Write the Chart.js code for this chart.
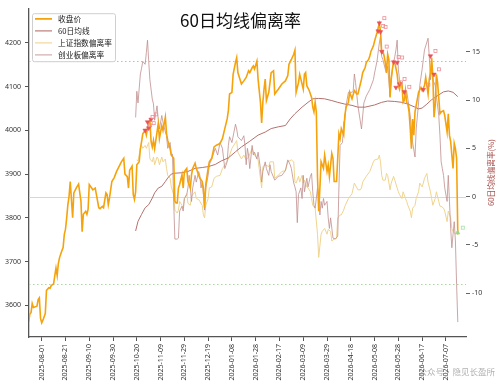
<!DOCTYPE html>
<html><head><meta charset="utf-8">
<script src="https://cdn.jsdelivr.net/npm/chart.js@4.4.1/dist/chart.umd.min.js"></script>
<style>html,body{margin:0;padding:0;background:#fff;}</style>
</head><body>
<canvas id="c" width="500" height="389"></canvas>
<script>
// x values are calendar days counted from 2025-08-01 (day 0)
const xTickDays = [0,20,40,60,80,100,120,140,160,180,200,220,240,260,280,300,320,340];
const xTickLabels = ['2025-08-01','2025-08-21','2025-09-10','2025-09-30','2025-10-20','2025-11-09','2025-11-29','2025-12-19','2026-01-08','2026-01-28','2026-02-17','2026-03-09','2026-03-29','2026-04-18','2026-05-08','2026-05-28','2026-06-17','2026-07-07'];
const leftTicks = [3600,3700,3800,3900,4000,4100,4200];
const rightTicks = [-10,-5,0,5,10,15];
const refLineValues = [14, 0, -9];

const closeDays = [-11,-10,-9,-8,-7,-4,-3,-2,-1,0,1,3,4,6,7,8,10,11,12,13,14,15,17,18,19,20,21,22,23,24,26,27,29,31,33,34,35,37,38,39,40,42,43,45,46,48,49,51,52,54,55,56,57,59,61,63,65,67,69,70,72,73,74,76,77,78,79,80,82,83,84,85,87,88,89,90,91,92,93,94,95,97,98,99,101,102,104,105,106,108,109,111,112,113,114,115,116,118,119,120,122,123,125,126,127,129,130,132,133,135,136,137,138,140,141,143,145,147,150,152,154,156,157,158,160,161,163,164,165,168,170,172,174,175,177,178,179,181,182,184,185,186,187,188,189,191,192,193,195,196,199,202,205,207,208,210,212,213,214,216,217,218,220,221,222,223,225,227,228,229,230,231,232,233,234,235,237,238,240,241,242,244,245,246,248,249,250,251,252,254,255,256,258,259,261,263,265,266,268,269,270,272,273,275,276,277,279,280,282,283,284,285,286,287,288,289,290,291,292,293,294,295,296,297,299,300,301,302,303,304,305,306,307,308,309,310,311,312,313,314,316,317,319,320,322,323,325,326,327,328,329,330,331,332,333,335,336,338,339,341,342,343,344,345,346,347,348,349,350];
const closeVals = [3562,3580,3583,3604,3595,3598,3613,3617,3570,3560,3566,3581,3634,3640,3639,3645,3649,3668,3685,3668,3696,3709,3725,3732,3762,3774,3800,3830,3849,3883,3800,3857,3868,3877,3838,3768,3808,3815,3808,3819,3876,3868,3864,3868,3853,3823,3821,3826,3823,3857,3853,3830,3845,3883,3892,3906,3917,3928,3936,3900,3894,3868,3909,3918,3853,3842,3860,3921,3928,3958,3974,3992,4000,3989,4005,4019,4023,3974,3962,3977,3958,3996,4015,3981,4011,4000,4030,3992,3977,3958,3943,3936,3838,3834,3834,3868,3876,3898,3868,3906,3913,3883,3868,3898,3913,3925,3913,3898,3891,3883,3868,3823,3876,3913,3928,3936,3962,3966,3970,3981,4004,4026,4045,4083,4087,4128,4155,4166,4132,4106,4113,4121,4136,4132,4143,4147,4140,4158,4117,4064,4017,4064,4094,4117,4068,4087,4109,4132,4136,4083,4094,4106,4113,4125,4151,4162,4174,4183,4087,4109,4128,4117,4094,4128,4132,4102,4091,4075,4053,4042,4064,4042,3891,3815,3868,3928,3913,3943,3906,3921,3894,3947,3936,3883,3883,3936,3992,3981,4004,3989,4034,4053,4064,4087,4072,4091,4083,4083,4106,4117,4132,4143,4155,4162,4170,4181,4193,4204,4223,4234,4244,4227,4177,4181,4170,4155,4132,4174,4162,4075,4117,4140,4158,4155,4128,4102,4094,4109,4106,4064,4068,4091,4064,4060,4042,4004,3958,4026,3989,4042,4072,4087,4098,4091,4102,4121,4083,4117,4132,4166,4125,4030,4057,4128,4109,4038,4042,4045,4034,3996,4038,3989,3974,3943,3913,3970,3958,3936,3762];

const ma60Days = [79,81,84,87,90,93,95,98,101,104,106,109,112,118,123,129,135,140,146,151,157,163,168,175,182,188,193,199,205,209,213,219,224,228,233,238,244,249,255,261,266,272,280,286,291,297,303,308,314,317,320,324,328,334,338,342,346,350];
const ma60Vals = [3770,3792,3808,3823,3830,3845,3857,3868,3872,3883,3891,3900,3902,3903,3906,3913,3915,3917,3922,3930,3937,3951,3962,3975,3989,3996,4004,4008,4011,4026,4038,4053,4064,4072,4073,4072,4068,4064,4060,4057,4053,4053,4058,4064,4067,4066,4064,4060,4053,4049,4051,4060,4070,4081,4088,4090,4087,4077];

const shDevDays = [80,81,83,84,85,87,88,90,91,93,94,95,97,98,99,101,102,104,105,106,108,109,111,112,114,115,116,118,119,120,122,123,125,126,127,129,130,132,133,135,136,137,138,140,141,143,145,147,150,152,154,157,160,163,164,165,168,170,172,174,177,179,182,185,186,188,191,192,195,196,199,202,205,207,210,212,213,214,216,217,219,220,221,223,224,226,227,228,230,232,233,235,236,238,240,241,243,244,246,248,249,251,252,254,255,258,261,263,266,268,269,270,273,276,279,280,283,284,285,286,287,289,290,291,293,294,296,297,299,300,301,303,304,306,307,308,310,311,312,314,315,317,318,320,321,322,324,325,327,328,329,331,332,334,335,336,338,339,341,342,344,345,346,348,349,350];
const shDevVals = [3.8,3.7,5.0,5.3,5.0,5.3,5.0,5.6,3.9,3.6,4.1,3.3,4.1,3.9,3.3,4.1,3.6,3.9,2.9,2.2,1.9,1.0,0.2,-1.4,-1.7,-1.4,-0.5,-0.9,-1.2,-0.2,0.3,-0.7,-0.9,0.0,0.2,0.5,-0.2,-0.3,-0.5,-0.9,-1.9,-2.2,-0.9,-0.2,0.9,1.0,1.9,2.1,2.2,2.9,3.3,3.9,5.0,5.6,5.8,4.6,3.9,4.3,3.8,4.1,5.0,4.3,3.8,0.9,3.1,3.3,3.1,3.6,3.6,1.9,2.2,2.6,2.7,3.6,3.8,3.6,1.5,1.4,2.1,1.5,2.2,1.4,1.7,1.0,0.9,0.5,-0.2,-0.9,-1.2,-3.9,-6.3,-3.9,-3.6,-3.3,-3.9,-3.4,-3.6,-4.6,-4.4,-4.3,-2.2,-1.9,-1.9,-1.4,-1.0,-0.2,0.3,1.4,0.7,0.7,0.9,1.5,2.1,2.6,3.6,3.8,3.9,4.3,3.6,2.2,1.7,1.7,2.4,2.2,0.7,1.4,2.1,1.7,0.9,0.5,0.2,-0.2,0.5,-0.2,-0.5,-0.9,-1.5,-2.2,-1.2,-0.9,-0.2,0.5,1.4,1.0,1.4,1.9,2.4,1.5,0.5,-0.2,-0.9,-0.2,0.5,-0.5,-1.0,-1.0,-1.2,-1.5,-2.6,-1.5,-2.2,-3.3,-3.6,-3.9,-3.6,-3.9];

const cyDevDays = [79,80,81,83,84,85,87,88,89,90,91,93,94,95,97,98,99,101,102,104,105,106,108,109,110,111,112,114,115,116,118,119,120,122,123,124,125,126,127,129,130,132,133,134,135,136,137,138,140,141,143,146,148,150,152,154,156,157,158,160,163,164,165,168,170,171,172,173,174,175,177,178,179,181,182,184,185,186,188,189,191,192,193,196,199,202,205,207,209,210,212,213,214,215,216,218,219,220,221,223,224,226,227,228,229,230,232,233,234,235,236,237,238,240,241,242,243,245,247,249,250,251,253,254,255,256,258,259,261,262,263,264,266,269,271,273,276,279,280,282,284,285,286,287,289,290,291,293,294,295,297,298,299,300,301,303,304,306,307,308,310,311,312,314,315,317,318,320,321,322,325,326,327,328,329,331,332,334,335,336,337,338,339,341,342,343,344,345,346,347,348,349,350];
const cyDevVals = [8.2,10.9,9.7,12.7,13.3,14.0,13.7,14.9,16.2,14.0,12.1,10.1,9.6,7.9,9.4,8.0,7.0,8.4,7.7,6.7,6.3,5.0,5.6,4.3,4.4,-0.5,-4.4,-4.4,-4.3,-1.5,-1.0,-1.5,-0.2,0.2,0.9,2.2,0.9,-0.5,0.9,2.2,1.5,2.6,2.2,0.9,1.5,0.2,-1.4,0.9,2.2,3.3,3.9,5.0,4.3,5.6,5.0,2.9,3.6,5.3,6.2,5.6,7.5,7.0,6.2,5.8,6.3,5.3,3.3,5.0,4.3,2.9,5.3,4.3,4.6,3.9,4.6,2.9,1.5,2.6,3.6,2.9,2.2,3.3,2.6,1.7,2.1,2.2,2.7,3.8,3.3,2.9,1.4,1.0,0.5,-2.7,0.2,0.9,-0.2,2.2,0.5,1.9,1.0,2.1,2.4,0.5,-0.9,-1.2,0.9,-0.2,-1.9,-0.5,-1.2,-0.2,-0.9,-0.5,-2.2,-3.3,-2.2,-4.3,-4.4,-4.1,0.9,5.3,5.6,7.7,8.0,9.4,10.8,10.8,10.8,10.9,12.7,11.8,9.4,7.0,9.7,10.4,11.1,12.1,12.8,14.0,15.9,16.6,14.5,14.2,13.2,12.8,13.5,10.4,12.1,13.2,14.5,15.2,16.2,13.2,12.1,11.5,10.8,10.4,10.9,10.1,8.4,7.0,5.6,4.1,7.0,9.7,11.5,13.2,14.2,15.2,16.4,14.5,12.1,13.2,12.1,11.5,10.4,8.4,6.3,3.6,2.9,2.2,0.9,-0.5,2.2,-0.5,-3.3,-5.3,-3.9,-2.6,-4.6,-9.1,-13.0];

// signal markers placed on the close line
const sellDays = [87,89,90,92,283,284,285,286,296,298,299,301,305,321,327,330];
const sellVals = [4000,4019,4005,4025,4227,4245,4225,4180,4156,4098,4155,4106,4088,4093,4170,4128];
const buyDays = [350];
const buyVals = [3766];

const pts = (xs, ys) => xs.map((x, i) => ({x, y: ys[i]}));

const refLineStyles = [
  {color: '#EBA6A6', dash: [1.5, 2.5], width: 1},
  {color: '#D6D6D6', dash: [], width: 1},
  {color: '#A9D6A0', dash: [1.5, 2.5], width: 1}
];

const refLinesPlugin = {
  id: 'refLines',
  beforeDatasetsDraw(chart) {
    const {ctx, chartArea: a, scales} = chart;
    ctx.save();
    refLineValues.forEach((v, i) => {
      const st = refLineStyles[i];
      const y = Math.round(scales.y1.getPixelForValue(v)) + 0.5;
      ctx.strokeStyle = st.color; ctx.lineWidth = st.width; ctx.setLineDash(st.dash);
      ctx.beginPath(); ctx.moveTo(a.left, y); ctx.lineTo(a.right, y); ctx.stroke();
    });
    ctx.restore();
  }
};

// legend drawn inside the plot (upper left), styled from the datasets
const legendPlugin = {
  id: 'boxLegend',
  afterDatasetsDraw(chart) {
    const {ctx, chartArea: a} = chart;
    const items = chart.data.datasets.filter(ds => !ds.hideInLegend);
    ctx.save();
    ctx.fillStyle = 'rgba(255,255,255,0.85)';
    ctx.strokeStyle = '#CFCFCF'; ctx.lineWidth = 1;
    ctx.beginPath();
    ctx.roundRect(a.left + 3.5, a.top + 5.5, 83, 48, 2);
    ctx.fill(); ctx.stroke();
    ctx.font = '7.7px "Noto Sans CJK SC"';
    ctx.textBaseline = 'middle'; ctx.textAlign = 'left';
    items.forEach((ds, i) => {
      const y = a.top + 10.7 + i * 12;
      ctx.strokeStyle = ds.borderColor; ctx.lineWidth = ds.borderWidth * 1.1;
      ctx.beginPath(); ctx.moveTo(a.left + 6, y); ctx.lineTo(a.left + 23, y); ctx.stroke();
      ctx.fillStyle = '#222';
      ctx.fillText(ds.label, a.left + 29, y + 0.3);
    });
    ctx.restore();
  }
};

const markLabelPlugin = {
  id: 'markLabels',
  afterDatasetsDraw(chart) {
    const {ctx} = chart;
    ctx.save();
    chart.data.datasets.forEach((ds, i) => {
      if (!ds.markColor) return;
      chart.getDatasetMeta(i).data.forEach(p => {
        ctx.strokeStyle = ds.markColor; ctx.lineWidth = 0.8;
        ctx.strokeRect(p.x + 3.5, p.y - 6.5, 3, 3);
      });
    });
    ctx.restore();
  }
};

const textPlugin = {
  id: 'texts',
  afterDraw(chart) {
    const {ctx, chartArea: a, scales} = chart;
    ctx.save();
    ctx.fillStyle = '#111';
    ctx.font = '17px "Noto Sans CJK SC"';
    ctx.textAlign = 'center'; ctx.textBaseline = 'middle';
    ctx.fillText('60日均线偏离率', (a.left + a.right) / 2 - 7, a.top + 12);
    ctx.save();
    ctx.translate(scales.y1.right - 9, (a.top + a.bottom) / 2);
    ctx.rotate(-Math.PI / 2);
    ctx.fillStyle = '#A9524E';
    ctx.font = '7.7px "Noto Sans CJK SC"';
    ctx.fillText('60日均线偏离率(%)', 0, 0);
    ctx.restore();
    ctx.fillStyle = 'rgba(150,150,150,0.75)';
    ctx.font = '8.5px "Noto Sans CJK SC"';
    ctx.textAlign = 'right';
    ctx.fillText('公众号·隐见长盈所', 495, 372);
    ctx.restore();
  }
};

const tickFont = {family: '"Noto Sans", "DejaVu Sans", sans-serif', size: 7};

new Chart(document.getElementById('c'), {
  type: 'line',
  data: {
    datasets: [
      {label: '收盘价', data: pts(closeDays, closeVals), yAxisID: 'y', borderColor: '#F5A30C', backgroundColor: '#F5A30C', borderWidth: 1.6, pointRadius: 0, tension: 0, order: 2},
      {label: '60日均线', data: pts(ma60Days, ma60Vals), yAxisID: 'y', borderColor: '#B4716D', backgroundColor: '#B4716D', borderWidth: 1, pointRadius: 0, tension: 0, order: 3},
      {label: '上证指数偏离率', data: pts(shDevDays, shDevVals), yAxisID: 'y1', borderColor: '#F0D48E', backgroundColor: '#F0D48E', borderWidth: 1, pointRadius: 0, tension: 0, order: 5},
      {label: '创业板偏离率', data: pts(cyDevDays, cyDevVals), yAxisID: 'y1', borderColor: 'rgba(192,142,142,0.8)', backgroundColor: 'rgba(192,142,142,0.8)', borderWidth: 1, pointRadius: 0, tension: 0, order: 4},
      {label: 'sell', hideInLegend: true, data: pts(sellDays, sellVals), yAxisID: 'y', showLine: false, pointStyle: 'triangle', rotation: 180, pointRadius: 2.6, pointBackgroundColor: '#E8505A', pointBorderColor: '#E8505A', pointBorderWidth: 0.5, markColor: '#EE8E96', order: 0},
      {label: 'buy', hideInLegend: true, data: pts(buyDays, buyVals), yAxisID: 'y', showLine: false, pointStyle: 'triangle', rotation: 0, pointRadius: 2.4, pointBackgroundColor: '#8FD98F', pointBorderColor: '#8FD98F', pointBorderWidth: 0.5, markColor: '#A6DFA6', order: 0}
    ]
  },
  options: {
    responsive: false, animation: false, devicePixelRatio: 1,
    layout: {padding: {top: 5, left: 0, right: 0, bottom: 0}},
    plugins: {
      tooltip: {enabled: false},
      title: {display: false},
      legend: {display: false}
    },
    scales: {
      x: {
        type: 'linear', min: -10.7, max: 356.9,
        afterBuildTicks: s => { s.ticks = xTickDays.map(v => ({value: v})); },
        afterFit: s => { s.height = 52; },
        ticks: {autoSkip: false, maxRotation: 90, minRotation: 90, font: tickFont, color: '#333', padding: 3,
          callback: v => { const i = xTickDays.indexOf(v); return i >= 0 ? xTickLabels[i] : ''; }},
        grid: {display: true, drawOnChartArea: false, drawTicks: true, tickLength: 4, color: '#555'},
        border: {display: true, color: '#555', width: 1.3}
      },
      y: {
        position: 'left', min: 3527.5, max: 4279.2,
        afterBuildTicks: s => { s.ticks = leftTicks.map(v => ({value: v})); },
        afterFit: s => { s.width = 29; },
        ticks: {font: tickFont, color: '#333', padding: 4, callback: v => String(v)},
        grid: {display: true, drawOnChartArea: false, drawTicks: true, tickLength: 4, color: '#555'},
        border: {display: true, color: '#555', width: 1.3}
      },
      y1: {
        position: 'right', min: -14.54, max: 19.51,
        afterBuildTicks: s => { s.ticks = rightTicks.map(v => ({value: v})); },
        afterFit: s => { s.width = 34; },
        ticks: {font: tickFont, color: '#333', padding: 2, callback: v => String(v)},
        grid: {display: true, drawOnChartArea: false, drawTicks: true, tickLength: 4, color: '#666'},
        border: {display: false}
      }
    }
  },
  plugins: [refLinesPlugin, legendPlugin, markLabelPlugin, textPlugin]
});
</script>
</body></html>
